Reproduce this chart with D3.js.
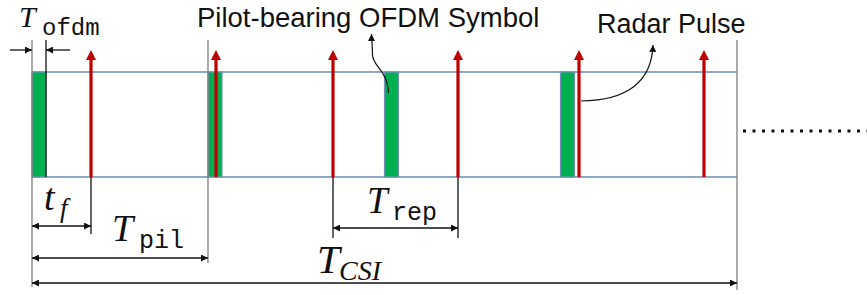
<!DOCTYPE html>
<html>
<head>
<meta charset="utf-8">
<script src="https://cdn.jsdelivr.net/npm/d3@7"></script>
<style>
  body { margin: 0; background: #fff; }
  svg { display: block; }
</style>
</head>
<body>
<div id="chart"></div>
<script>
// timeline in arbitrary time units (0 .. T_CSI)
const tCsi = 705;
const tOfdm = 14;
const pilotStarts = [0, 176, 352.5, 528.5];
const pulseTimes = [59, 184, 301, 426, 547, 672];

const width = 867, height = 295;
const boxTop = 72, boxBottom = 177;

const x = d3.scaleLinear().domain([0, tCsi]).range([32, 737]);

const svg = d3.select("#chart").append("svg")
    .attr("width", width)
    .attr("height", height);

const defs = svg.append("defs");
// small black head for dimension lines
defs.append("marker")
    .attr("id", "dimHead")
    .attr("viewBox", "0 0 10 10")
    .attr("refX", 10).attr("refY", 5)
    .attr("markerUnits", "userSpaceOnUse")
    .attr("markerWidth", 9).attr("markerHeight", 7)
    .attr("orient", "auto-start-reverse")
    .append("path").attr("d", "M0,0 L10,5 L0,10 Z").attr("fill", "#111");

// guide lines (gray) at start, end and T_pil
const guides = [
    { t: 0, y1: 40, y2: 287, c: "#7f7f7f" },
    { t: tCsi, y1: 40, y2: 290, c: "#7f7f7f" },
    { t: pilotStarts[1], y1: 40, y2: 263, c: "#7f7f7f" },
    { t: tOfdm, y1: 40, y2: boxBottom, c: "#111" },
    { t: pulseTimes[0], y1: boxBottom, y2: 234, c: "#111" },
    { t: pulseTimes[2], y1: 167, y2: 238, c: "#111" },
    { t: pulseTimes[3], y1: boxBottom, y2: 238, c: "#111" }
];

// box top / bottom lines
svg.selectAll(".rail")
    .data([boxTop, boxBottom])
    .enter().append("line")
    .attr("x1", x(0)).attr("x2", x(tCsi))
    .attr("y1", d => d).attr("y2", d => d)
    .attr("stroke", "#8eaac8")
    .attr("stroke-width", 2);

// pilot-bearing OFDM symbols
svg.selectAll(".pilot")
    .data(pilotStarts)
    .enter().append("rect")
    .attr("x", d => x(d))
    .attr("y", boxTop)
    .attr("width", d => x(d + tOfdm) - x(d))
    .attr("height", boxBottom - boxTop)
    .attr("fill", "#00b050")
    .attr("stroke", "#7193bb")
    .attr("stroke-width", 1.2);

svg.selectAll(".guide")
    .data(guides)
    .enter().append("line")
    .attr("x1", d => x(d.t)).attr("x2", d => x(d.t))
    .attr("y1", d => d.y1).attr("y2", d => d.y2)
    .attr("stroke", d => d.c)
    .attr("stroke-width", 1.3);

// radar pulses
const pulse = svg.selectAll(".pulse")
    .data(pulseTimes)
    .enter().append("g")
    .attr("transform", d => "translate(" + x(d) + ",0)");

pulse.append("line")
    .attr("y1", 58).attr("y2", boxBottom)
    .attr("stroke", "#c00000")
    .attr("stroke-width", 3.2);

pulse.append("path")
    .attr("d", "M0,50 L5,60 L-5,60 Z")
    .attr("fill", "#c00000");

// dimension arrows
const dims = [
    { a: 0, b: pulseTimes[0], y: 226 },
    { a: 0, b: pilotStarts[1], y: 258 },
    { a: pulseTimes[2], b: pulseTimes[3], y: 228 },
    { a: 0, b: tCsi, y: 283 }
];

svg.selectAll(".dim")
    .data(dims)
    .enter().append("line")
    .attr("x1", d => x(d.a)).attr("x2", d => x(d.b))
    .attr("y1", d => d.y).attr("y2", d => d.y)
    .attr("stroke", "#111")
    .attr("stroke-width", 1.3)
    .attr("marker-start", "url(#dimHead)")
    .attr("marker-end", "url(#dimHead)");

// T_ofdm arrows pointing inwards
svg.append("line")
    .attr("x1", 10).attr("x2", x(0)).attr("y1", 50).attr("y2", 50)
    .attr("stroke", "#111").attr("stroke-width", 1.3)
    .attr("marker-end", "url(#dimHead)");
svg.append("line")
    .attr("x1", 70).attr("x2", x(tOfdm)).attr("y1", 50).attr("y2", 50)
    .attr("stroke", "#111").attr("stroke-width", 1.3)
    .attr("marker-end", "url(#dimHead)");

// math labels: italic serif main symbol + subscript
const labels = [
    { main: "T", sub: "ofdm", mono: true, x: 19, y: 27, fs: 30, sx: 42, sy: 35, sfs: 24 },
    { main: "t", sub: "f", mono: false, x: 44, y: 210, fs: 38, sx: 60, sy: 217, sfs: 27 },
    { main: "T", sub: "pil", mono: true, x: 112, y: 241, fs: 38, sx: 139, sy: 248, sfs: 25 },
    { main: "T", sub: "rep", mono: true, x: 367, y: 213, fs: 37, sx: 392, sy: 220, sfs: 25 },
    { main: "T", sub: "CSI", mono: false, x: 317, y: 273, fs: 41, sx: 339, sy: 280, sfs: 28 }
];

const lab = svg.selectAll(".lab")
    .data(labels)
    .enter().append("g");

lab.append("text")
    .attr("x", d => d.x).attr("y", d => d.y)
    .attr("font-family", "'Liberation Serif', 'DejaVu Serif', serif")
    .attr("font-style", "italic")
    .attr("font-size", d => d.fs)
    .attr("fill", "#111")
    .text(d => d.main);

lab.append("text")
    .attr("x", d => d.sx).attr("y", d => d.sy)
    .attr("font-family", d => d.mono ? "'Liberation Mono', 'DejaVu Sans Mono', monospace" : "'Liberation Serif', 'DejaVu Serif', serif")
    .attr("font-style", d => d.mono ? "normal" : "italic")
    .attr("font-size", d => d.sfs)
    .attr("fill", "#111")
    .text(d => d.sub);

// callout texts
svg.append("text")
    .attr("x", 197).attr("y", 27)
    .attr("font-family", "'Liberation Sans', Arial, sans-serif")
    .attr("font-size", 27.5)
    .attr("fill", "#111")
    .text("Pilot-bearing OFDM Symbol");

svg.append("text")
    .attr("x", 597).attr("y", 33)
    .attr("font-family", "'Liberation Sans', Arial, sans-serif")
    .attr("font-size", 27)
    .attr("fill", "#111")
    .text("Radar Pulse");

// callout curves
defs.append("marker")
    .attr("id", "callHead")
    .attr("viewBox", "0 0 10 10")
    .attr("refX", 10).attr("refY", 5)
    .attr("markerUnits", "userSpaceOnUse")
    .attr("markerWidth", 8).attr("markerHeight", 7)
    .attr("orient", "auto")
    .append("path").attr("d", "M0,0 L10,5 L0,10 Z").attr("fill", "#111");

const pilotX = x(pilotStarts[2]) + 4;
svg.append("path")
    .attr("d", "M" + pilotX + ",93 C" + (pilotX - 1) + ",70 " + (pilotX - 16) + ",66 " + (pilotX - 16) + ",55 S" + (pilotX - 17) + ",40 " + (pilotX - 17) + ",34")
    .attr("fill", "none").attr("stroke", "#111").attr("stroke-width", 1.2)
    .attr("marker-end", "url(#callHead)");

const radarX = x(pulseTimes[4]) + 2;
svg.append("path")
    .attr("d", "M" + radarX + ",101 Q" + (radarX + 70) + ",100 " + (radarX + 72) + ",45")
    .attr("fill", "none").attr("stroke", "#111").attr("stroke-width", 1.2)
    .attr("marker-end", "url(#callHead)");

// continuation dots
svg.append("line")
    .attr("x1", 743).attr("x2", width).attr("y1", 131).attr("y2", 131)
    .attr("stroke", "#111").attr("stroke-width", 3)
    .attr("stroke-dasharray", "3,6.5");
</script>
</body>
</html>
